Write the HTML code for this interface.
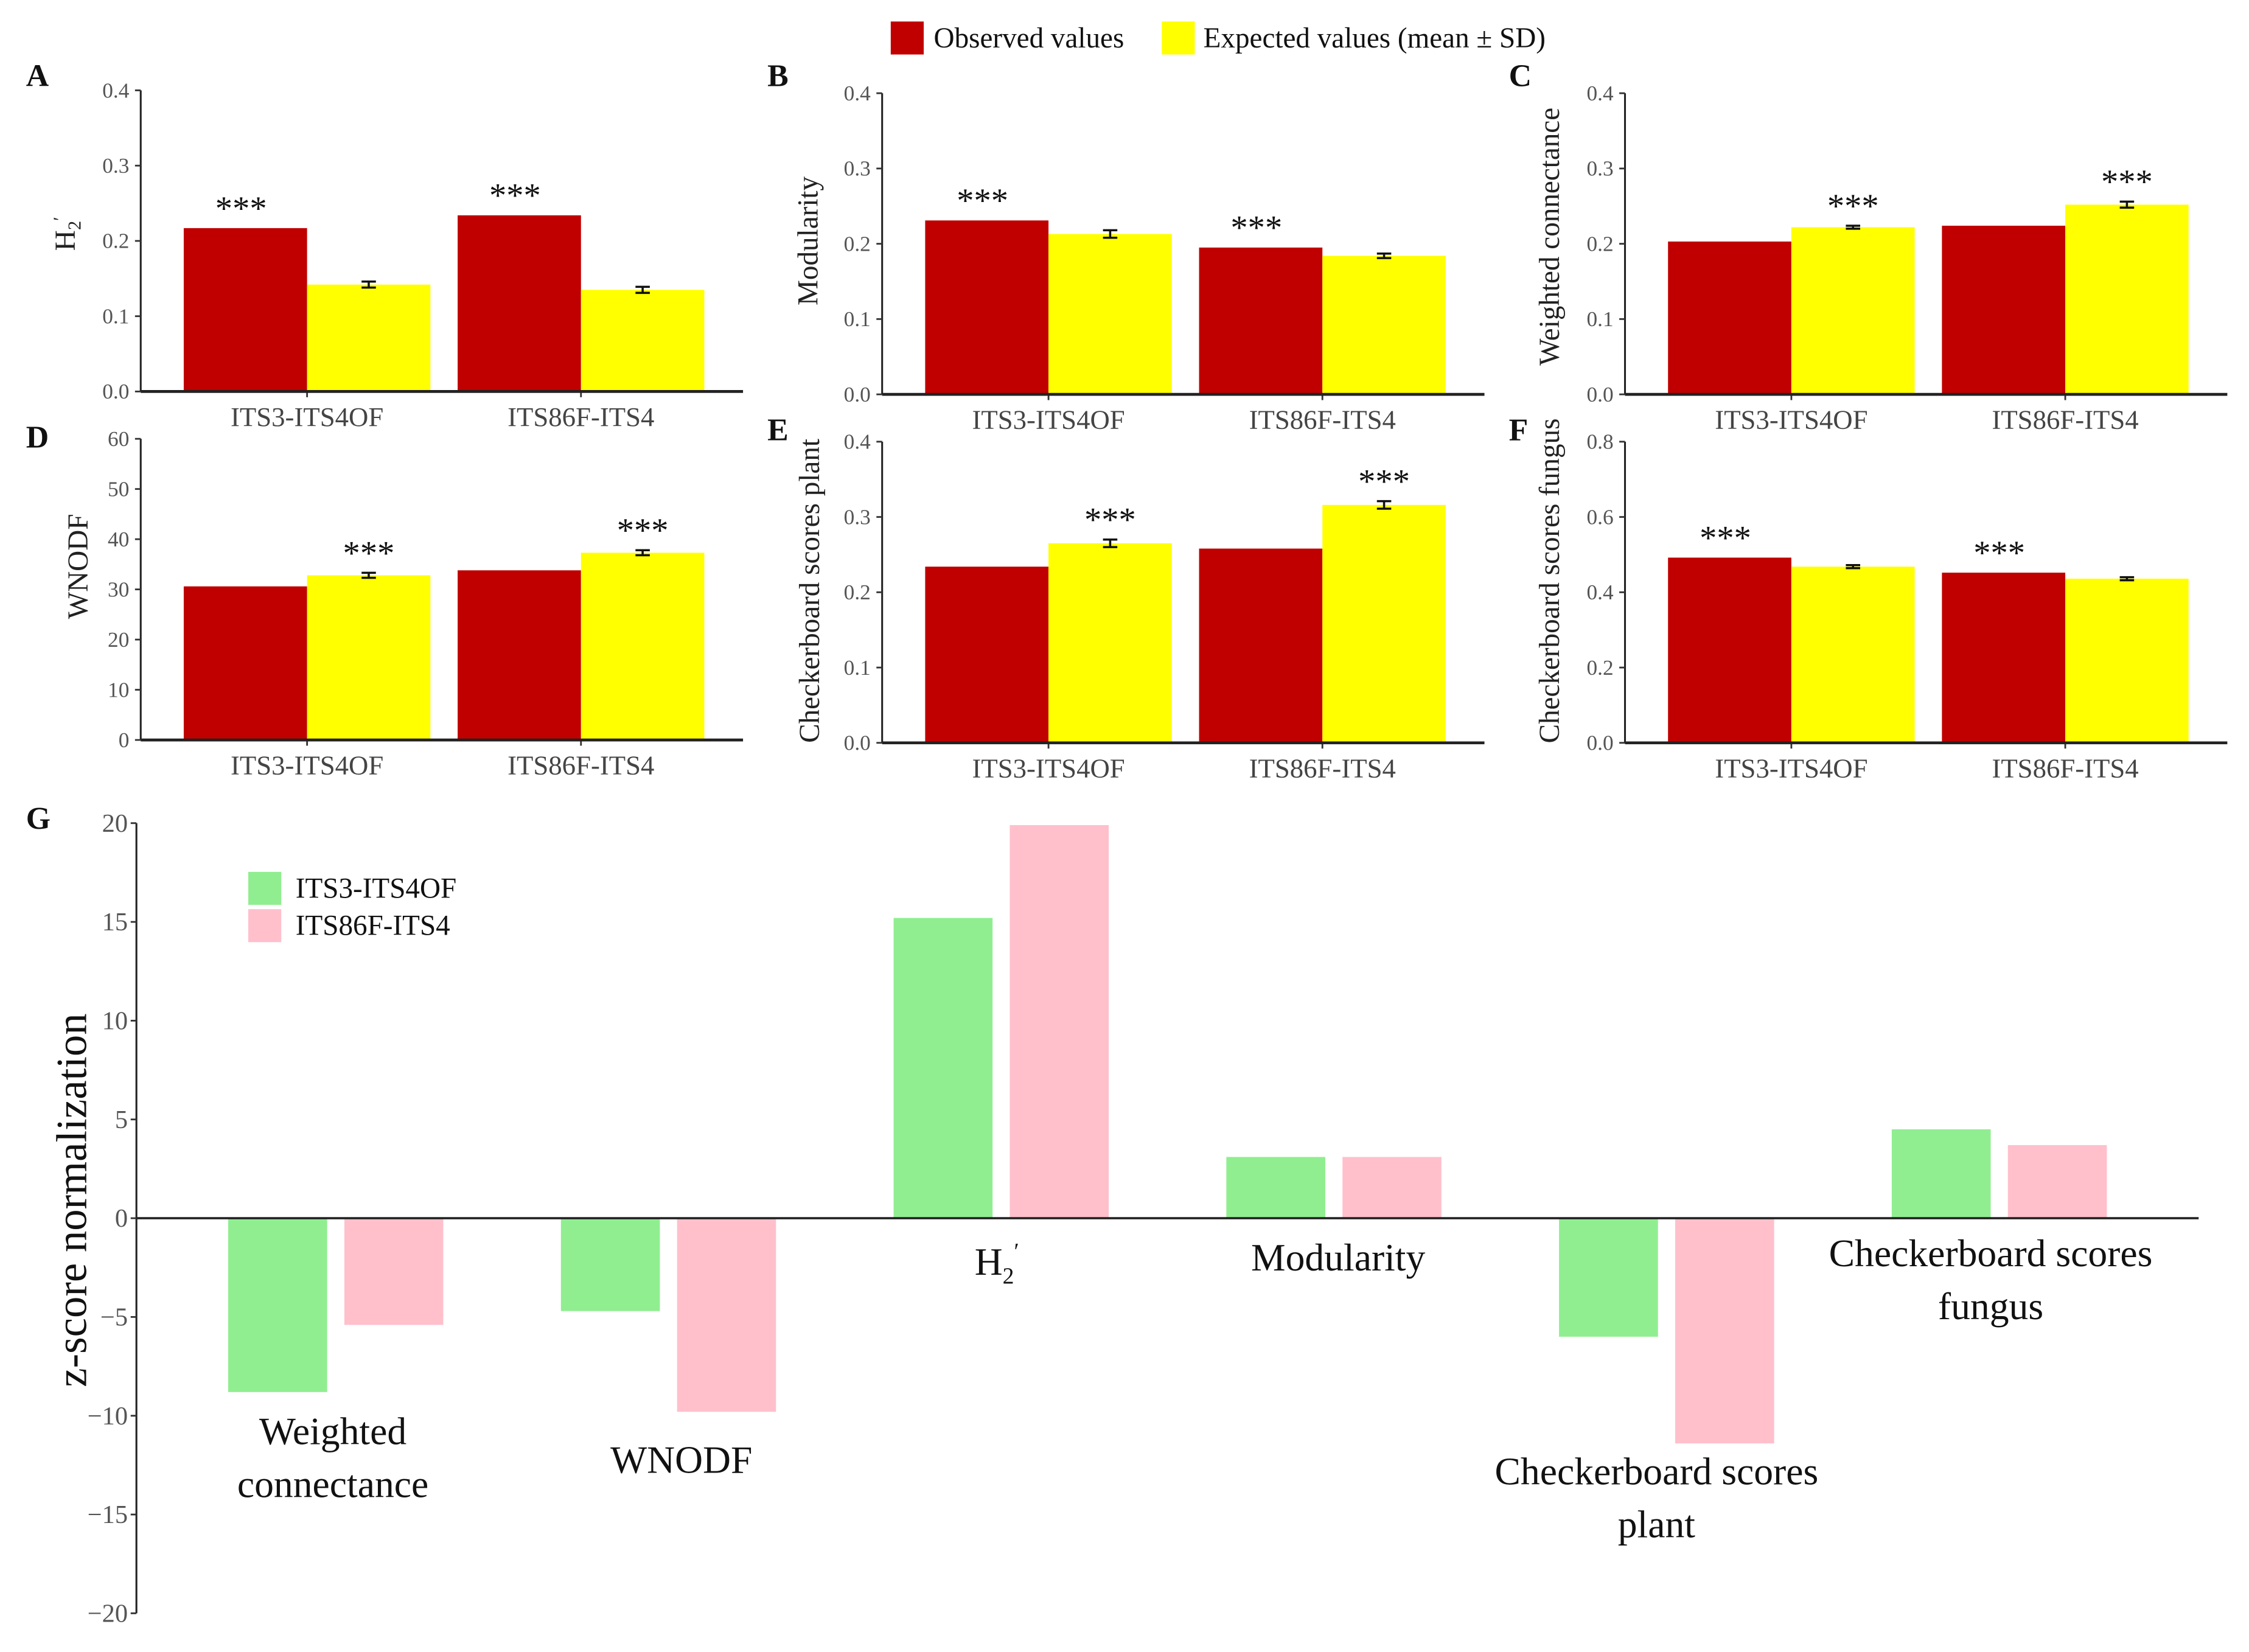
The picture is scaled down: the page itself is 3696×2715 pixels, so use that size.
<!DOCTYPE html>
<html><head><meta charset="utf-8"><style>
html,body{margin:0;padding:0;background:#fff}
svg{display:block}
text{font-family:"Liberation Serif",serif}
</style></head><body>
<svg id="fig" xmlns="http://www.w3.org/2000/svg" width="3696" height="2715" viewBox="0 0 1568 1152">
<rect width="1568" height="1152" fill="#fff"/>
<g>
<rect x="621" y="15" width="23" height="23" fill="#c00000"/>
<text x="651" y="33" font-size="20" fill="#111">Observed values</text>
<rect x="810" y="15" width="23" height="23" fill="#ffff00"/>
<text x="839" y="33" font-size="20" fill="#111">Expected values (mean ± SD)</text>
</g>
</svg>
<script>
const categories = ["ITS3-ITS4OF","ITS86F-ITS4"];
const obsA=[0.217,0.234], expA=[0.142,0.135], sdA=[0.004,0.004];
const obsB=[0.231,0.195], expB=[0.213,0.184], sdB=[0.005,0.003];
const obsC=[0.203,0.224], expC=[0.222,0.252], sdC=[0.002,0.004];
const obsD=[30.6,33.8], expD=[32.8,37.3], sdD=[0.5,0.5];
const obsE=[0.234,0.258], expE=[0.265,0.316], sdE=[0.005,0.005];
const obsF=[0.492,0.452], expF=[0.468,0.436], sdF=[0.004,0.004];
const ticks04=[0,0.1,0.2,0.3,0.4];
const ticks60=[0,10,20,30,40,50,60];
const ticks08=[0,0.2,0.4,0.6,0.8];
const gMetrics=["Weighted connectance","WNODF","H2'","Modularity","Checkerboard scores plant","Checkerboard scores fungus"];
const gGreen=[-8.8,-4.7,15.2,3.1,-6.0,4.5];
const gPink=[-5.4,-9.8,19.9,3.1,-11.4,3.7];
const gTicks=[-20,-15,-10,-5,0,5,10,15,20];

const NS="http://www.w3.org/2000/svg";
const svg=document.getElementById('fig');
function mk(tag,attrs,parent,txt){const e=document.createElementNS(NS,tag);for(const k in attrs)e.setAttribute(k,attrs[k]);if(txt!==undefined)e.textContent=txt;(parent||svg).appendChild(e);return e;}

const panels=[
 {id:'a',L:'A',lx:18,ly:60,ax:98,top:63,bot:273,max:0.4,ticks:ticks04,dec:1,obs:obsA,exp:expA,sd:sdA,starOnObs:true,title:"H2",tx:52,ty:163},
 {id:'b',L:'B',lx:535,ly:60,ax:615,top:65,bot:275,max:0.4,ticks:ticks04,dec:1,obs:obsB,exp:expB,sd:sdB,starOnObs:true,title:"Modularity",tx:570,ty:168},
 {id:'c',L:'C',lx:1052,ly:60,ax:1133,top:65,bot:275,max:0.4,ticks:ticks04,dec:1,obs:obsC,exp:expC,sd:sdC,starOnObs:false,title:"Weighted connectance",tx:1087,ty:165},
 {id:'d',L:'D',lx:18,ly:312,ax:98,top:306,bot:516,max:60,ticks:ticks60,dec:0,obs:obsD,exp:expD,sd:sdD,starOnObs:false,title:"WNODF",tx:61,ty:395},
 {id:'e',L:'E',lx:535,ly:307,ax:615,top:308,bot:518,max:0.4,ticks:ticks04,dec:1,obs:obsE,exp:expE,sd:sdE,starOnObs:false,title:"Checkerboard scores plant",tx:571,ty:412},
 {id:'f',L:'F',lx:1052,ly:307,ax:1133,top:308,bot:518,max:0.8,ticks:ticks08,dec:1,obs:obsF,exp:expF,sd:sdF,starOnObs:true,title:"Checkerboard scores fungus",tx:1087,ty:405}
];
panels.forEach(p=>{
 const g=mk('g',{});
 
 
 const y=v=>p.bot-(v/p.max)*(p.bot-p.top);
 const pl=mk('text',{x:p.lx,y:p.ly,'font-size':22,'font-weight':'bold',fill:'#111'},g,p.L);
 
 
 const starts=[p.ax+30,p.ax+221];
 categories.forEach((c,i)=>{
  const x0=starts[i];
  const r=mk('rect',{x:x0,y:y(p.obs[i]),width:86,height:p.bot-y(p.obs[i]),fill:'#c00000'},g);
  
  
  const ye=mk('rect',{x:x0+86,y:y(p.exp[i]),width:86,height:p.bot-y(p.exp[i]),fill:'#ffff00'},g);
  
  
  const cx=x0+129, y1=y(p.exp[i]+p.sd[i]), y2=y(p.exp[i]-p.sd[i]);
  const eb=mk('path',{d:`M${cx-5},${y1}H${cx+5}M${cx},${y1}V${y2}M${cx-5},${y2}H${cx+5}`,stroke:'#111','stroke-width':1.5,fill:'none'},g);
  
  
  const sx=p.starOnObs?x0+40:cx;
  const sy=p.starOnObs?y(p.obs[i])-14:y1-14;
  const st=mk('text',{x:sx,y:sy+8,'font-size':24,'text-anchor':'middle',fill:'#111'},g,'***');
  
  
  const xl=mk('text',{x:x0+86,y:p.bot+24,'font-size':19,'text-anchor':'middle',fill:'#444'},g,c);
  
  
  mk('line',{x1:x0+86,x2:x0+86,y1:p.bot,y2:p.bot+4,stroke:'#333','stroke-width':1.2},g);
 });
 const ya=mk('line',{x1:p.ax,x2:p.ax,y1:p.top,y2:p.bot,stroke:'#222','stroke-width':1.3},g);
 
 
 const xa=mk('line',{x1:p.ax,x2:p.ax+420,y1:p.bot,y2:p.bot,stroke:'#222','stroke-width':2},g);
 
 
 p.ticks.forEach(t=>{
  mk('line',{x1:p.ax-4,x2:p.ax,y1:y(t),y2:y(t),stroke:'#333','stroke-width':1.2},g);
  const tl=mk('text',{x:p.ax-8,y:y(t)+5,'font-size':15,'text-anchor':'end',fill:'#555'},g,t.toFixed(p.dec));
  
  
 });
 const tt=mk('text',{x:p.tx,y:p.ty,'font-size':20,'text-anchor':'middle',fill:'#222',transform:`rotate(-90 ${p.tx} ${p.ty})`},g);
 
 
 if(p.title==="H2"){tt.textContent="H";mk('tspan',{'font-size':13,dy:4},tt,"2");mk('tspan',{'font-size':13,dy:-10},tt,"′");}
 else tt.textContent=p.title;
});

// Panel G
const G={ax:95,top:574,bot:1125,min:-20,max:20,right:1533};
const gy=v=>G.bot-(v-G.min)/(G.max-G.min)*(G.bot-G.top);
const gg=mk('g',{});


const gl=mk('text',{x:18,y:578,'font-size':22,'font-weight':'bold',fill:'#111'},gg,'G');


gMetrics.forEach((m,i)=>{
 const x0=159+i*232;
 [[gGreen,'#90ee90','green',0],[gPink,'#ffc0cb','pink',81]].forEach(([arr,col,nm,off])=>{
  const v=arr[i], yy=Math.min(gy(v),gy(0)), h=Math.abs(gy(v)-gy(0));
  const r=mk('rect',{x:x0+off,y:yy,width:69,height:h,fill:col},gg);
  
  
 });
});
const gLabels=[
 {lines:["Weighted","connectance"],x:232,y:998},
 {lines:["WNODF"],x:475,y:1018},
 {lines:["H2'"],x:695,y:880},
 {lines:["Modularity"],x:933,y:877},
 {lines:["Checkerboard scores","plant"],x:1155,y:1026},
 {lines:["Checkerboard scores","fungus"],x:1388,y:874}
];
gLabels.forEach((L,i)=>{
 L.lines.forEach((ln,j)=>{
  const t=mk('text',{x:L.x,y:L.y+j*37+9,'font-size':27,'text-anchor':'middle',fill:'#111'},gg);
  
  
  if(ln==="H2'"){t.textContent="H";mk('tspan',{'font-size':16,dy:6},t,"2");mk('tspan',{'font-size':16,dy:-17},t,"′");}
  else t.textContent=ln;
 });
});
const gya=mk('line',{x1:G.ax,x2:G.ax,y1:G.top,y2:G.bot,stroke:'#222','stroke-width':1.3},gg);


const gza=mk('line',{x1:G.ax,x2:G.right,y1:gy(0),y2:gy(0),stroke:'#222','stroke-width':1.5},gg);


gTicks.forEach(t=>{
 mk('line',{x1:G.ax-4,x2:G.ax,y1:gy(t),y2:gy(t),stroke:'#333','stroke-width':1.2},gg);
 const tl=mk('text',{x:G.ax-6,y:gy(t)+6,'font-size':18,'text-anchor':'end',fill:'#555'},gg,t<0?'\u2212'+(-t):String(t));
 
 
});
const gt=mk('text',{x:60,y:837,'font-size':30,'text-anchor':'middle',fill:'#111',transform:'rotate(-90 60 837)'},gg,'z-score normalization');


[['#90ee90',categories[0],608],['#ffc0cb',categories[1],634]].forEach(([c,t,yy],i)=>{
 const s=mk('rect',{x:173,y:yy,width:23,height:23,fill:c},gg);
 
 
 const tx=mk('text',{x:206,y:yy+18,'font-size':20,fill:'#111'},gg,t);
 
 
});
</script>
</body></html>
